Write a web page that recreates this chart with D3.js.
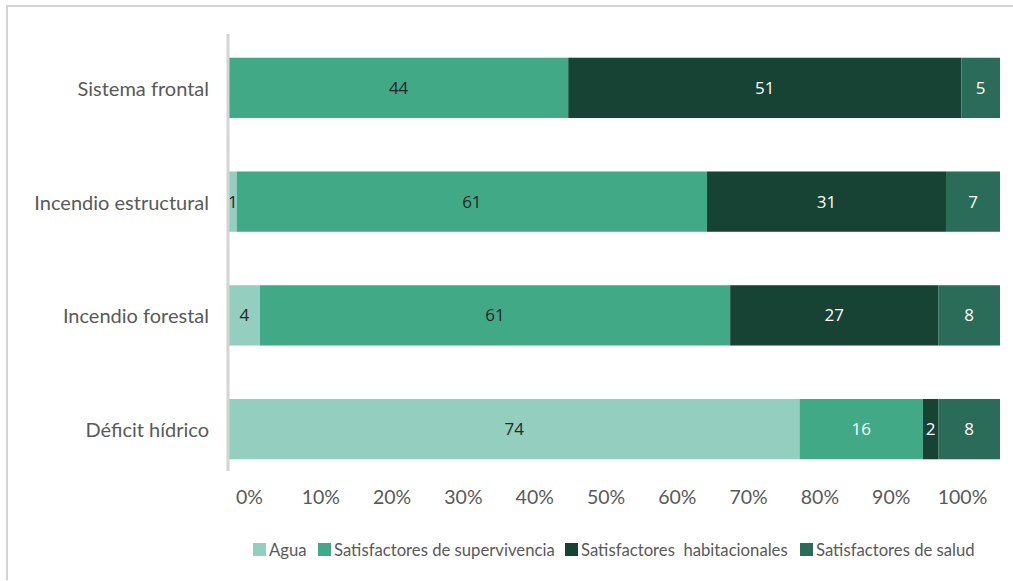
<!DOCTYPE html>
<html>
<head>
<meta charset="utf-8">
<script src="https://cdn.jsdelivr.net/npm/d3@7"></script>
<style>
  body { margin: 0; background: #fff; }
  svg { display: block; }
</style>
</head>
<body>
<script>
// chart data
var categories = ["Sistema frontal", "Incendio estructural", "Incendio forestal", "Déficit hídrico"];
var seriesNames = ["Agua", "Satisfactores de supervivencia", "Satisfactores  habitacionales", "Satisfactores de salud"];
var agua         = [0, 1, 4, 74];
var supervivencia = [44, 61, 61, 16];
var habitacional = [51, 31, 27, 2];
var salud        = [5, 7, 8, 8];
var tickValues = [0, 10, 20, 30, 40, 50, 60, 70, 80, 90, 100];

var colors = ["#93cebf", "#42a987", "#174334", "#2a6c57"];

var W = 1013, H = 581;

// build rows for the stack
var rows = categories.map(function(c, i) {
  return {
    cat: c,
    s0: agua[i], s1: supervivencia[i], s2: habitacional[i], s3: salud[i]
  };
});
var keys = ["s0", "s1", "s2", "s3"];
var stacked = d3.stack().keys(keys)(rows);

var svg = d3.select("body").append("svg")
    .attr("width", W)
    .attr("height", H);

// outer frame (top and left only visible)
svg.append("path")
    .attr("d", "M7,580 L7,6 L1013,6")
    .attr("fill", "none")
    .attr("stroke", "#d4d4d4")
    .attr("stroke-width", 2);

// scales
var x = d3.scaleLinear().domain([0, 100]).range([229, 1000]);
var xLabels = d3.scaleLinear().domain([0, 100]).range([249, 962]);
var y = d3.scaleBand().domain(categories).range([31, 486]).paddingInner(0.47).paddingOuter(0.235);

// bars
var layer = svg.selectAll("g.layer")
    .data(stacked)
  .enter().append("g")
    .attr("class", "layer")
    .attr("fill", function(d, i) { return colors[i]; });

layer.selectAll("rect")
    .data(function(d) { return d; })
  .enter().append("rect")
    .filter(function(d) { return d[1] - d[0] > 0; })
    .attr("x", function(d) { return x(d[0]); })
    .attr("y", function(d) { return y(d.data.cat); })
    .attr("width", function(d) { return x(d[1]) - x(d[0]); })
    .attr("height", y.bandwidth());

// value labels
layer.each(function(series, si) {
  d3.select(this).selectAll("text")
      .data(series.filter(function(d) { return d[1] - d[0] > 0; }))
    .enter().append("text")
      .attr("x", function(d) { return (x(d[0]) + x(d[1])) / 2; })
      .attr("y", function(d) { return y(d.data.cat) + y.bandwidth() / 2; })
      .attr("dy", "0.36em")
      .attr("text-anchor", "middle")
      .attr("font-family", "'Open Sans', sans-serif")
      .attr("font-size", 17)
      .attr("fill", function(d) {
        if (si >= 2) return "#ffffff";
        if (si === 1 && d.data.cat === "Déficit hídrico") return "#ffffff";
        return "#262626";
      })
      .text(function(d) { return d[1] - d[0]; });
});

// y axis line
svg.append("line")
    .attr("x1", 228).attr("x2", 228)
    .attr("y1", 34).attr("y2", 471)
    .attr("stroke", "#d4d4d4")
    .attr("stroke-width", 3);

// category labels
svg.selectAll("text.cat")
    .data(categories)
  .enter().append("text")
    .attr("class", "cat")
    .attr("x", 209)
    .attr("y", function(d) { return y(d) + y.bandwidth() / 2 + 1; })
    .attr("dy", "0.35em")
    .attr("text-anchor", "end")
    .attr("font-family", "Lato, sans-serif")
    .attr("font-size", 20)
    .attr("fill", "#595959")
    .text(function(d) { return d; });

// x axis labels
var xAxis = svg.append("g")
    .attr("transform", "translate(0,487)")
    .call(d3.axisBottom(xLabels)
      .tickValues(tickValues)
      .tickSize(0)
      .tickPadding(0)
      .tickFormat(function(d) { return d + "%"; }));
xAxis.select(".domain").remove();
xAxis.selectAll("text")
    .attr("dy", "0.85em")
    .attr("font-family", "Lato, sans-serif")
    .attr("font-size", 19.5)
    .attr("fill", "#595959");

// legend
var legendX = [253, 318, 565, 800];
var legend = svg.selectAll("g.legend")
    .data(seriesNames)
  .enter().append("g")
    .attr("class", "legend")
    .attr("transform", function(d, i) { return "translate(" + legendX[i] + ",543)"; });

legend.append("rect")
    .attr("width", 13)
    .attr("height", 13)
    .attr("fill", function(d, i) { return colors[i]; });

legend.append("text")
    .attr("x", 16)
    .attr("y", 13)
    .attr("font-family", "Lato, sans-serif")
    .attr("font-size", 16.7)
    .attr("fill", "#595959")
    .attr("xml:space", "preserve")
    .style("white-space", "pre")
    .text(function(d) { return d; });
</script>
</body>
</html>
